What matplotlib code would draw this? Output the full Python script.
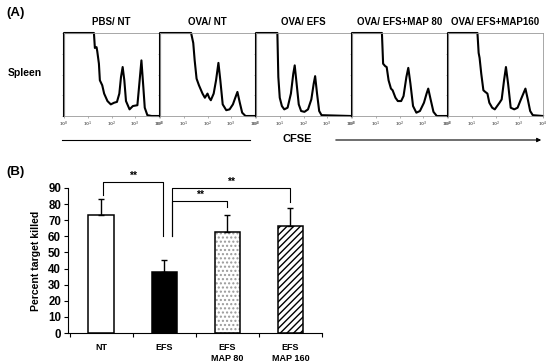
"""Flow histograms (A) and killing bar chart (B)"""

import matplotlib

matplotlib.use("Agg")
import matplotlib.pyplot as plt

W, H = 550, 362

# ---- panel A: CFSE histograms (x = log10 CFSE, y = fraction of full scale)
titles = ["PBS/ NT", "OVA/ NT", "OVA/ EFS", "OVA/ EFS+MAP 80", "OVA/ EFS+MAP160"]

hist_pbs_nt = [
    (0, 0), (0, 1.0), (1.26, 1.0), (1.3, 0.82), (1.37, 0.83), (1.4, 0.78), (1.47, 0.63),
    (1.51, 0.43), (1.61, 0.37), (1.69, 0.27), (1.83, 0.18), (1.97, 0.14), (2.11, 0.16),
    (2.23, 0.17), (2.33, 0.27), (2.40, 0.47), (2.47, 0.59), (2.54, 0.43), (2.61, 0.18),
    (2.76, 0.08), (2.90, 0.12), (3.09, 0.13), (3.16, 0.35), (3.26, 0.67), (3.34, 0.35),
    (3.40, 0.10), (3.51, 0.01), (3.69, 0.0), (4.0, 0.0),
]
hist_ova_nt = [
    (0, 0), (0, 1.0), (1.31, 1.0), (1.40, 0.88), (1.46, 0.67), (1.54, 0.45), (1.64, 0.37),
    (1.79, 0.27), (1.89, 0.22), (2.0, 0.27), (2.07, 0.22), (2.14, 0.19), (2.26, 0.27),
    (2.36, 0.43), (2.46, 0.64), (2.54, 0.43), (2.64, 0.14), (2.79, 0.07), (2.93, 0.08),
    (3.07, 0.14), (3.17, 0.22), (3.26, 0.29), (3.36, 0.16), (3.46, 0.04), (3.60, 0.0),
    (4.0, 0.0),
]
hist_ova_efs = [
    (0, 0), (0, 1.0), (0.90, 1.0), (0.94, 0.47), (1.0, 0.22), (1.09, 0.12), (1.19, 0.08),
    (1.33, 0.10), (1.47, 0.27), (1.57, 0.51), (1.63, 0.61), (1.71, 0.39), (1.80, 0.14),
    (1.90, 0.06), (2.04, 0.05), (2.19, 0.08), (2.33, 0.2), (2.43, 0.39), (2.49, 0.48),
    (2.57, 0.27), (2.66, 0.06), (2.76, 0.01), (4.0, 0.0),
]
hist_map80 = [
    (0, 0), (0, 1.0), (1.26, 1.0), (1.31, 0.63), (1.40, 0.60), (1.46, 0.59), (1.54, 0.43),
    (1.64, 0.33), (1.71, 0.31), (1.83, 0.22), (1.93, 0.18), (2.07, 0.18), (2.17, 0.24),
    (2.29, 0.47), (2.37, 0.58), (2.46, 0.39), (2.57, 0.12), (2.71, 0.04), (2.86, 0.06),
    (3.03, 0.16), (3.14, 0.27), (3.21, 0.33), (3.31, 0.2), (3.43, 0.05), (3.57, 0.0),
    (4.0, 0.0),
]
hist_map160 = [
    (0, 0), (0, 1.0), (1.24, 1.0), (1.29, 0.76), (1.33, 0.70), (1.40, 0.51), (1.49, 0.31),
    (1.57, 0.29), (1.66, 0.27), (1.74, 0.16), (1.86, 0.10), (1.97, 0.08), (2.07, 0.12),
    (2.17, 0.16), (2.26, 0.20), (2.36, 0.43), (2.44, 0.59), (2.53, 0.39), (2.64, 0.10),
    (2.79, 0.08), (2.93, 0.10), (3.07, 0.20), (3.26, 0.33), (3.36, 0.20), (3.46, 0.06),
    (3.57, 0.01), (4.0, 0.0),
]
histograms = [hist_pbs_nt, hist_ova_nt, hist_ova_efs, hist_map80, hist_map160]
decade_labels = [r"$10^0$", r"$10^1$", r"$10^2$", r"$10^3$", r"$10^4$"]

# ---- panel B: percent target killed
groups = ["NT", "EFS", "EFS\nMAP 80", "EFS\nMAP 160"]
killed = [73.5, 38.0, 62.5, 66.5]
killed_err = [9.5, 7.5, 10.5, 11.0]
hatches = ["", "", "....", "/////"]
faces = ["white", "black", "white", "white"]
hatch_colors = ["black", "black", "#9a9a9a", "black"]
# (from, to, bracket height, left end, right end)
brackets = [
    (0, 1, 93.7, 85.6, 60.2),
    (1, 2, 82.1, 60.2, 78.4),
    (1, 3, 90.2, 60.2, 81.5),
]

plt.rcParams["font.family"] = ["Liberation Sans", "DejaVu Sans"]
plt.rcParams["font.weight"] = "bold"
plt.rcParams["hatch.linewidth"] = 1.0


def fx(px):
    return px / W


def fy(py):
    return 1 - py / H


fig = plt.figure(figsize=(W / 100, H / 100), dpi=100)

box_lefts = [64, 160, 256, 352, 448]
box_w, box_top, box_h = 95, 33, 83
for left, title, pts in zip(box_lefts, titles, histograms):
    ax = fig.add_axes([fx(left), fy(box_top + box_h), box_w / W, box_h / H])
    xs = [p[0] for p in pts]
    ys = [p[1] for p in pts]
    ax.plot(xs, ys, color="black", linewidth=1.5, clip_on=False)
    ax.set_xlim(0, 4)
    ax.set_ylim(0, 1.0)
    ax.set_xticks(range(5))
    ax.set_xticklabels(decade_labels, fontsize=3, color="#555555")
    ax.set_yticks([0, 0.25, 0.5, 0.75, 1.0])
    ax.set_yticklabels([])
    ax.tick_params(length=1.5, width=0.4, pad=1, colors="#777777")
    for sp in ax.spines.values():
        sp.set_color("#999999")
        sp.set_linewidth(0.6)
    fig.text(fx(left + box_w / 2), fy(22), title, ha="center", va="center",
             fontsize=7.0, fontweight="bold")

fig.text(fx(6), fy(13), "(A)", fontsize=9.5, fontweight="bold", va="center")
fig.text(fx(8), fy(73), "Spleen", fontsize=7.5, fontweight="bold", va="center")
fig.text(fx(297), fy(139), "CFSE", fontsize=8, fontweight="bold",
         ha="center", va="center")
fig.add_artist(plt.Line2D([fx(62), fx(250)], [fy(140), fy(140)],
                          color="black", linewidth=0.8))
fig.add_artist(matplotlib.patches.FancyArrowPatch(
    (fx(333), fy(140)), (fx(544), fy(140)), transform=fig.transFigure,
    arrowstyle="-|>", mutation_scale=6, color="black", linewidth=0.8))

# panel B
axb = fig.add_axes([fx(68), fy(333), 254 / W, 145 / H])
pos = list(range(len(groups)))
# hatch layer first (hatch takes the edge colour), then black outline on top
axb.bar(pos, killed, width=0.41, color=faces, edgecolor=hatch_colors,
        hatch=hatches, linewidth=0, zorder=2)
axb.bar(pos, killed, width=0.41, fill=False, edgecolor="black",
        linewidth=1.1, zorder=3)
axb.errorbar(pos, killed, yerr=[[0] * len(killed), killed_err], fmt="none",
             ecolor="black", elinewidth=1.0, capsize=2.5, capthick=1.0, zorder=3)
axb.set_xlim(-0.53, 3.47)
axb.set_ylim(0, 90)
axb.set_yticks(range(0, 91, 10))
axb.set_xticks([p + 0.5 for p in [-1] + pos])
axb.set_xticklabels([])
axb.set_xticks(pos, minor=True)
axb.set_xticklabels(groups, minor=True, fontsize=6.5, fontweight="bold",
                    linespacing=1.35)
axb.tick_params(axis="x", which="minor", length=0, pad=7)
axb.tick_params(axis="x", which="major", length=3, width=0.8, direction="out")
axb.tick_params(axis="y", length=3, width=0.8, labelsize=8.3, pad=2)
for lab in axb.get_yticklabels():
    lab.set_fontweight("bold")
axb.spines["top"].set_visible(False)
axb.spines["right"].set_visible(False)
axb.spines["left"].set_linewidth(0.8)
axb.spines["bottom"].set_linewidth(0.8)
axb.set_ylabel("Percent target killed", fontsize=7.6, fontweight="bold", labelpad=5)

for a, b, top, ya, yb in brackets:
    xa = a + 0.02 if a == 0 else a + 0.12
    xb = b - 0.03 if b == 1 else b
    axb.plot([xa, xa, xb, xb], [ya, top, top, yb], color="black",
             linewidth=0.8, clip_on=False)
    axb.text((xa + xb) / 2, top + 0.8, "**", ha="center", va="bottom",
             fontsize=7.5, fontweight="bold", clip_on=False)

fig.text(fx(6), fy(172), "(B)", fontsize=9.5, fontweight="bold", va="center")

fig.savefig("out.png", dpi=100)
